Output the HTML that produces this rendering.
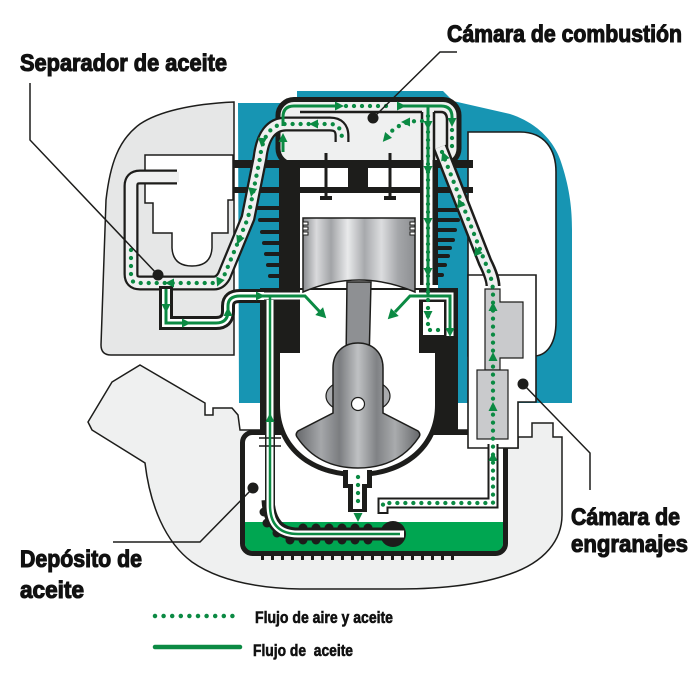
<!DOCTYPE html>
<html><head><meta charset="utf-8"><style>
html,body{margin:0;padding:0;background:#fff}
svg{display:block}
.t{font-family:"Liberation Sans Narrow","Liberation Sans",sans-serif;font-weight:bold;fill:#111;stroke:#111;stroke-width:1.1}
</style></head><body>
<svg width="700" height="700" viewBox="0 0 700 700" xmlns="http://www.w3.org/2000/svg">
<defs>
<linearGradient id="pg" x1="0" x2="1" y1="0" y2="0">
<stop offset="0" stop-color="#8a8c8f"/><stop offset="0.12" stop-color="#d9dadc"/><stop offset="0.25" stop-color="#a2a4a7"/><stop offset="0.4" stop-color="#e9eaeb"/><stop offset="0.55" stop-color="#a7a9ac"/><stop offset="0.7" stop-color="#dcdddf"/><stop offset="0.85" stop-color="#a4a6a9"/><stop offset="1" stop-color="#8d8f92"/>
</linearGradient>
<linearGradient id="cg" x1="0" x2="1" y1="0" y2="0">
<stop offset="0" stop-color="#66686b"/><stop offset="0.2" stop-color="#a5a7aa"/><stop offset="0.35" stop-color="#7b7d80"/><stop offset="0.5" stop-color="#bfc1c3"/><stop offset="0.65" stop-color="#808285"/><stop offset="0.8" stop-color="#a9abad"/><stop offset="1" stop-color="#66686b"/>
</linearGradient>
</defs>
<rect width="700" height="700" fill="#fff"/>

<!-- lower housing -->
<path d="M140,365 L205,403 L205,415 L213,415 L213,408 L232,408 L238,415 L240,430 L505,430 L505,448 L518,448 L518,437 L532,437 L532,423 L553,423 L553,437 L562,437 L562,515 C562,540 545,562 510,574 C485,583 450,589 400,589 L300,589 C250,588 215,578 192,562 C165,542 150,505 145,463 L92,430 L88,422 L112,382 Z" fill="#eff0f0" stroke="#1d1d1b" stroke-width="1.5"/>

<!-- separator housing -->
<path d="M234,102 C190,104 158,112 140,124 C118,140 110,165 106,200 L101,345 Q101,355 111,355 L234,355 Z" fill="#e6e7e7" stroke="#1d1d1b" stroke-width="1.5"/>

<!-- blue -->
<path d="M238,103 L297,103 L297,91 L443,91 L453,101 L510,114 C535,122 555,140 562,165 C570,190 572,210 572,230 L572,403 L239,403 Z" fill="#1795b3"/>

<!-- gear cover -->
<path d="M468,132 L520,132 C545,132 556,150 556,172 L556,322 C556,342 548,355 535,356 L468,356 Z" fill="#fff" stroke="#1d1d1b" stroke-width="1.6"/>

<!-- tank -->
<rect x="242.5" y="432.5" width="263" height="121" rx="10" fill="#fff"/>
<path d="M245,522 L503,522 L503,543 Q503,551 495,551 L253,551 Q245,551 245,543 Z" fill="#00a651"/>
<rect x="242.5" y="432.5" width="263" height="121" rx="10" fill="none" stroke="#1d1d1b" stroke-width="5"/>
<g fill="#1d1d1b">
<rect x="261" y="555" width="3" height="5"/><rect x="271" y="555" width="3" height="5"/><rect x="281" y="555" width="3" height="5"/><rect x="291" y="555" width="3" height="5"/><rect x="301" y="555" width="3" height="5"/><rect x="311" y="555" width="3" height="5"/><rect x="321" y="555" width="3" height="5"/><rect x="331" y="555" width="3" height="5"/><rect x="341" y="555" width="3" height="5"/><rect x="351" y="555" width="3" height="5"/><rect x="361" y="555" width="3" height="5"/><rect x="371" y="555" width="3" height="5"/><rect x="381" y="555" width="3" height="5"/><rect x="391" y="555" width="3" height="5"/><rect x="401" y="555" width="3" height="5"/><rect x="411" y="555" width="3" height="5"/><rect x="421" y="555" width="3" height="5"/><rect x="431" y="555" width="3" height="5"/><rect x="441" y="555" width="3" height="5"/><rect x="451" y="555" width="3" height="5"/>
</g>

<!-- fins -->
<g stroke="#1d1d1b" stroke-width="4" stroke-linecap="round">
<line x1="257" y1="208" x2="282" y2="208"/><line x1="260" y1="220" x2="282" y2="220"/><line x1="262" y1="232" x2="282" y2="232"/><line x1="264" y1="243" x2="282" y2="243"/><line x1="266" y1="254" x2="282" y2="254"/><line x1="268" y1="265" x2="282" y2="265"/><line x1="270" y1="276" x2="282" y2="276"/>
<line x1="436" y1="210" x2="460" y2="210"/><line x1="436" y1="220" x2="458" y2="220"/><line x1="436" y1="230" x2="455" y2="230"/><line x1="436" y1="240" x2="453" y2="240"/><line x1="436" y1="248" x2="450" y2="248"/><line x1="436" y1="256" x2="448" y2="256"/><line x1="436" y1="265" x2="445" y2="265"/><line x1="436" y1="275" x2="442" y2="275"/>
</g>

<!-- head -->
<rect x="278" y="99.5" width="181" height="65" rx="16" fill="#eff0f0" stroke="#1d1d1b" stroke-width="5"/>
<g stroke="#1d1d1b" stroke-width="2.5" fill="none">
<path d="M300,112 L422,112"/>
<path d="M434,112 L441,112 Q447,112 447,120 L447,156"/>
<path d="M422,112 L422,160"/><path d="M434,112 L434,160"/>
</g>

<!-- cylinder body -->
<rect x="279" y="166" width="159" height="129" fill="#fff"/>
<g fill="#1d1d1b">
<rect x="279" y="160" width="21" height="135"/>
<rect x="348" y="160" width="20" height="33"/>
<rect x="420" y="160" width="18" height="125"/>
<rect x="230" y="160" width="243" height="8"/>
<rect x="230" y="187" width="243" height="6"/>
<rect x="324.5" y="153" width="3" height="46"/><rect x="320" y="196" width="12" height="4"/>
<rect x="388.5" y="153" width="3" height="46"/><rect x="384" y="196" width="12" height="4"/>
</g>
<rect x="423.5" y="160" width="9" height="136" fill="#fff"/>

<!-- lower block -->
<rect x="260" y="288" width="198" height="144" fill="#1d1d1b"/>
<path d="M275,350 L275,405 C275,451 312,477 357,477 C402,477 440,451 440,405 L440,350 Z" fill="#1d1d1b"/>
<path d="M300,290 L419,290 L419,353 L435,353 L435,405 C435,447 400,472 357,472 C314,472 280,447 280,405 L280,353 L300,353 Z" fill="#fff"/>
<rect x="260" y="292.5" width="45" height="7" fill="#fff"/>
<path d="M402,296 L450,296 L450,336" fill="none" stroke="#fff" stroke-width="7"/>
<rect x="423" y="302" width="21" height="33" fill="#fff"/>
<!-- neck -->
<path d="M343,470 L372,470 L372,488 L367,488 L367,512 L348,512 L348,488 L343,488 Z" fill="#1d1d1b"/>
<path d="M348,468 L367,468 L367,484 L362,484 L362,509 L353,509 L353,484 L348,484 Z" fill="#fff"/>

<!-- tube into tank -->
<path d="M268,500 Q270,534 298,534 L392,534" fill="none" stroke="#1d1d1b" stroke-width="13"/>
<g fill="#1d1d1b">
<circle cx="264" cy="512" r="4.5"/><circle cx="267" cy="523" r="4.5"/><circle cx="277" cy="533" r="4.5"/>
<circle cx="290" cy="540" r="4.5"/><circle cx="303" cy="528" r="4.5"/><circle cx="303" cy="540" r="4.5"/><circle cx="316" cy="528" r="4.5"/><circle cx="316" cy="540" r="4.5"/><circle cx="329" cy="528" r="4.5"/><circle cx="329" cy="540" r="4.5"/><circle cx="342" cy="528" r="4.5"/><circle cx="342" cy="540" r="4.5"/><circle cx="355" cy="528" r="4.5"/><circle cx="355" cy="540" r="4.5"/><circle cx="368" cy="528" r="4.5"/><circle cx="368" cy="540" r="4.5"/>
<circle cx="393" cy="534" r="13"/>
</g>
<path d="M270,300 L270,505 Q270,534 298,534 L404,534" fill="none" stroke="#1d1d1b" stroke-width="10"/>
<path d="M270,300 L270,505 Q270,534 298,534 L404,534" fill="none" stroke="#fff" stroke-width="7"/>
<g stroke="#1d1d1b" stroke-width="1.5"><line x1="259" y1="438" x2="281" y2="438"/><line x1="259" y1="446" x2="281" y2="446"/></g>

<!-- piston, rod, crank -->
<path d="M347,282 L371,282 L369,362 L346,362 Z" fill="#8e9093" stroke="#1d1d1b" stroke-width="1.5"/>
<path d="M303,218 L415,218 L415,292 Q359,268 303,292 Z" fill="url(#pg)" stroke="#1d1d1b" stroke-width="1.5"/>
<g fill="#fff" stroke="#1d1d1b" stroke-width="1"><rect x="303" y="222" width="5" height="3"/><rect x="303" y="227" width="5" height="3"/><rect x="303" y="232" width="5" height="3"/><rect x="410" y="222" width="5" height="3"/><rect x="410" y="227" width="5" height="3"/><rect x="410" y="232" width="5" height="3"/></g>
<ellipse cx="358" cy="396" rx="32" ry="18" fill="#a9abae" stroke="#1d1d1b" stroke-width="1.2"/>
<path d="M333,413 L333,368 C333,352 344,343 358,343 C372,343 383,352 383,368 L383,413 L418,431 Q421,434 419,437 C405,458 385,468 358,468 C331,468 311,458 297,437 Q295,434 298,431 Z" fill="url(#cg)" stroke="#1d1d1b" stroke-width="1.5"/>
<circle cx="358" cy="404" r="6.5" fill="#fff" stroke="#1d1d1b" stroke-width="1.2"/>

<!-- gear box -->
<path d="M468,275 L536,275 L536,402 L518,402 L518,448 L468,448 Z" fill="#fff" stroke="#1d1d1b" stroke-width="1.6"/>
<path d="M485,289 L500,289 L500,302 L523,302 L523,358 L500,358 L500,370 L485,370 Z" fill="#c9cacc" stroke="#1d1d1b" stroke-width="1.2"/>
<rect x="477" y="370" width="31" height="69" fill="#c9cacc" stroke="#1d1d1b" stroke-width="1.2"/>
<path d="M493,444 L493,503 L383,503 L383,514" fill="none" stroke="#1d1d1b" stroke-width="11"/>
<path d="M493,442 L493,503 L383,503 L383,512" fill="none" stroke="#fff" stroke-width="7"/>

<!-- right diagonal channel -->
<path d="M440,147 L485,262 Q493,278 493,286" fill="none" stroke="#1d1d1b" stroke-width="15"/>
<path d="M440,147 L485,262 Q493,278 493,288" fill="none" stroke="#eff0f0" stroke-width="10"/>

<!-- separator cup and channel -->
<path d="M145,155 L233,155 L233,200 L228,200 L228,233 L212,233 L212,248 Q211,266 192,266 Q173,266 172,248 L172,233 L153,233 L153,203 L145,203 Z" fill="#fff" stroke="#1d1d1b" stroke-width="1.5"/>
<path d="M177,177 L140,177 Q131,177 131,186 L131,274 Q131,283 140,283 L214,283 Q220,283 224,276 L248,218 L260,158 Q264,124 286,124 L330,124 Q342,124 342,136 L342,142" fill="none" stroke="#1d1d1b" stroke-width="15"/>
<path d="M179,177 L140,177 Q131,177 131,186 L131,274 Q131,283 140,283 L214,283 Q220,283 224,276 L248,218 L260,158 Q264,124 286,124 L330,124 Q342,124 342,136 L342,145" fill="none" stroke="#eff0f0" stroke-width="10.5"/>
<!-- separator return channel -->
<path d="M166,286 L166,323 L216,323 Q228,323 228,311 L228,306 Q228,296 240,296 L262,296" fill="none" stroke="#1d1d1b" stroke-width="14"/>
<path d="M166,289 L166,323 L216,323 Q228,323 228,311 L228,306 Q228,296 240,296 L264,296" fill="none" stroke="#fff" stroke-width="8"/>

<!-- green solid -->
<g fill="none" stroke="#0b8a43" stroke-width="3">
<path d="M166,289 L166,323 L216,323 Q228,323 228,311 L228,306 Q228,296 240,296 L305,296 L320,312"/>
<path d="M270,296 L270,505 Q270,534 298,534 L400,534" stroke-width="2.5"/>
<path d="M283,126 L283,117 Q283,106 294,106 L340,106"/>
<path d="M398,106 L441,106 Q452,106 452,117 L452,121"/>
<path d="M428,106 L428,296"/>
<path d="M395,312 L410,296 L450,296 L450,330"/>
<path d="M283,152 L283,141"/>
</g>
<!-- green dotted -->
<g fill="none" stroke="#0b8a43" stroke-width="4.3" stroke-linecap="round" stroke-dasharray="0 8">
<path d="M131,250 L131,276 Q131,283 138,283 L214,283 Q220,283 224,276 L248,218 L260,158 Q264,124 286,124 L330,124 Q342,124 342,140"/>
<path d="M346,106 L394,106"/>
<path d="M422,121 Q400,120 386,137"/>
<path d="M428,116 L428,330 L442,330"/>
<path d="M452,130 L452,150"/>
<path d="M442,152 L485,262 Q493,280 493,292 L493,503 L383,503 L383,512"/>
<path d="M358,477 L358,508"/>
</g>
<!-- arrows -->
<g fill="#0b8a43">
<path d="M5,0 L-4,-4.5 L-4,4.5Z" transform="translate(170 283) rotate(180)"/>
<path d="M5,0 L-4,-4.5 L-4,4.5Z" transform="translate(219 282) rotate(112)"/>
<path d="M5,0 L-4,-4.5 L-4,4.5Z" transform="translate(239 240) rotate(112)"/>
<path d="M5,0 L-4,-4.5 L-4,4.5Z" transform="translate(252 192) rotate(101)"/>
<path d="M5,0 L-4,-4.5 L-4,4.5Z" transform="translate(262 142) rotate(95)"/>
<path d="M5,0 L-4,-4.5 L-4,4.5Z" transform="translate(314 124) rotate(180)"/>
<path d="M5,0 L-4,-4.5 L-4,4.5Z" transform="translate(166 308) rotate(90)"/>
<path d="M5,0 L-4,-4.5 L-4,4.5Z" transform="translate(186 323) rotate(0)"/>
<path d="M5,0 L-4,-4.5 L-4,4.5Z" transform="translate(228 312) rotate(-90)"/>
<path d="M5,0 L-4,-4.5 L-4,4.5Z" transform="translate(260 296) rotate(0)"/>
<path d="M6,0 L-4,-5.5 L-4,5.5Z" transform="translate(322 314) rotate(45)"/>
<path d="M6,0 L-4,-5.5 L-4,5.5Z" transform="translate(392 315) rotate(135)"/>
<path d="M5,0 L-4,-4.5 L-4,4.5Z" transform="translate(450 332) rotate(90)"/>
<path d="M5,0 L-4,-4.5 L-4,4.5Z" transform="translate(270 418) rotate(-90)"/>
<path d="M5,0 L-4,-4.5 L-4,4.5Z" transform="translate(283 138) rotate(-90)"/>
<path d="M5,0 L-4,-4.5 L-4,4.5Z" transform="translate(339 106) rotate(0)"/>
<path d="M5,0 L-4,-4.5 L-4,4.5Z" transform="translate(401 106) rotate(0)"/>
<path d="M5,0 L-4,-4.5 L-4,4.5Z" transform="translate(452 122) rotate(90)"/>
<path d="M5,0 L-4,-4.5 L-4,4.5Z" transform="translate(406 122) rotate(180)"/>
<path d="M5,0 L-4,-4.5 L-4,4.5Z" transform="translate(386 138) rotate(130)"/>
<path d="M5,0 L-4,-4.5 L-4,4.5Z" transform="translate(428 125) rotate(90)"/>
<path d="M5,0 L-4,-4.5 L-4,4.5Z" transform="translate(428 170) rotate(90)"/>
<path d="M5,0 L-4,-4.5 L-4,4.5Z" transform="translate(428 222) rotate(90)"/>
<path d="M5,0 L-4,-4.5 L-4,4.5Z" transform="translate(428 272) rotate(90)"/>
<path d="M5,0 L-4,-4.5 L-4,4.5Z" transform="translate(428 315) rotate(90)"/>
<path d="M5,0 L-4,-4.5 L-4,4.5Z" transform="translate(444 156) rotate(-111)"/>
<path d="M5,0 L-4,-4.5 L-4,4.5Z" transform="translate(460 203) rotate(-111)"/>
<path d="M5,0 L-4,-4.5 L-4,4.5Z" transform="translate(477 251) rotate(-111)"/>
<path d="M5,0 L-4,-4.5 L-4,4.5Z" transform="translate(493 307) rotate(-90)"/>
<path d="M5,0 L-4,-4.5 L-4,4.5Z" transform="translate(493 357) rotate(-90)"/>
<path d="M5,0 L-4,-4.5 L-4,4.5Z" transform="translate(493 407) rotate(-90)"/>
<path d="M5,0 L-4,-4.5 L-4,4.5Z" transform="translate(493 457) rotate(-90)"/>
<path d="M5,0 L-4,-4.5 L-4,4.5Z" transform="translate(358 517) rotate(90)"/>
</g>

<!-- leaders -->
<g stroke="#1d1d1b" stroke-width="1.5" fill="none">
<path d="M158,275 L30,140 L30,83"/>
<path d="M373,118 L440,52 L457,52"/>
<path d="M523,384 L590,453 L590,490"/>
<path d="M253,488 L200,542 L113,542"/>
</g>
<g fill="#1d1d1b">
<circle cx="158" cy="275" r="5.5"/><circle cx="373" cy="118" r="5.5"/><circle cx="523" cy="384" r="5.5"/><circle cx="253" cy="488" r="5.5"/>
</g>

<!-- labels -->
<text class="t" x="447" y="42" font-size="24" textLength="235" lengthAdjust="spacingAndGlyphs">Cámara de combustión</text>
<text class="t" x="20" y="71" font-size="24" textLength="207" lengthAdjust="spacingAndGlyphs">Separador de aceite</text>
<text class="t" x="20" y="567" font-size="24" textLength="122" lengthAdjust="spacingAndGlyphs">Depósito de</text>
<text class="t" x="20" y="598" font-size="24" textLength="64" lengthAdjust="spacingAndGlyphs">aceite</text>
<text class="t" x="571" y="525" font-size="24" textLength="109" lengthAdjust="spacingAndGlyphs">Cámara de</text>
<text class="t" x="571" y="552" font-size="24" textLength="117" lengthAdjust="spacingAndGlyphs">engranajes</text>

<!-- legend -->
<path d="M155,616 L241,616" fill="none" stroke="#0b8a43" stroke-width="4.5" stroke-linecap="round" stroke-dasharray="0 8.6"/>
<path d="M155,647 L240,647" fill="none" stroke="#0b8a43" stroke-width="4.5" stroke-linecap="round"/>
<text class="t" x="255" y="623" font-size="17" textLength="138" lengthAdjust="spacingAndGlyphs" style="stroke-width:0.6">Flujo de aire y aceite</text>
<text class="t" x="253" y="656" font-size="17" textLength="100" lengthAdjust="spacingAndGlyphs" style="stroke-width:0.6;white-space:pre" xml:space="preserve">Flujo de  aceite</text>
</svg>
</body></html>
